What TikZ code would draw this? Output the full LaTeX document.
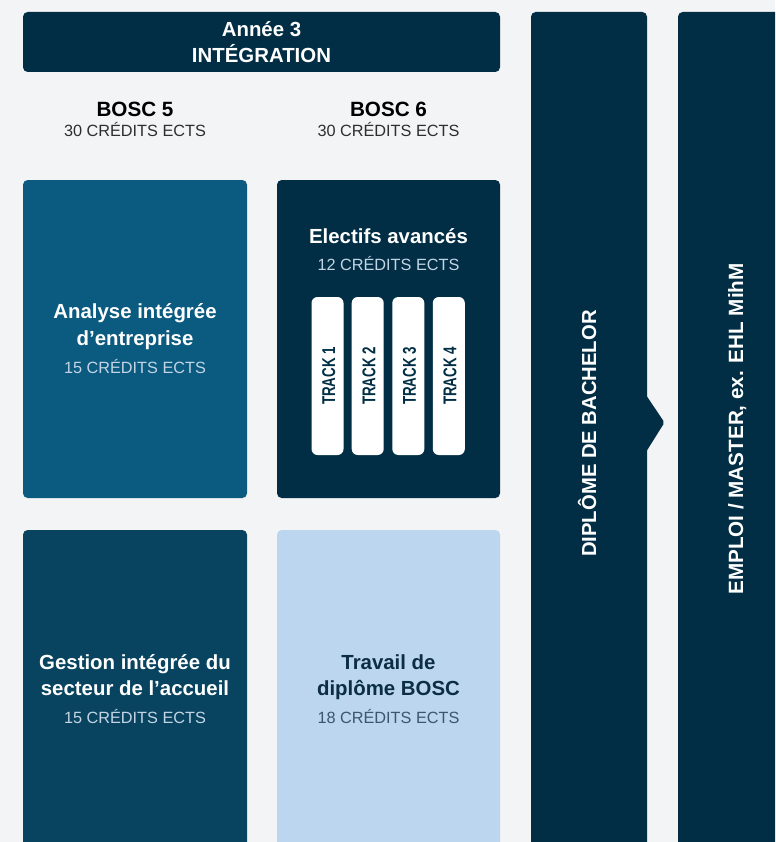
\documentclass[tikz,border=0pt]{standalone}
\usepackage{fontspec}
\setmainfont{Liberation Sans}
\usetikzlibrary{fit,calc}
\definecolor{bg}{HTML}{F3F4F6}
\definecolor{navy}{HTML}{012E45}
\definecolor{blueA}{HTML}{0B5A80}
\definecolor{blueG}{HTML}{08445F}
\definecolor{lightb}{HTML}{BCD6EF}
\definecolor{credlight}{HTML}{C3D5E5}
\definecolor{creddark}{HTML}{3C5670}
\definecolor{credgray}{HTML}{2E2E2E}
\definecolor{titlenavy}{HTML}{0B2D45}
\begin{document}
\begin{tikzpicture}[x=0.75pt,y=-0.75pt,
  panel/.style={inner sep=0pt, rounded corners=3.5pt, draw=none},
  trackbox/.style={inner sep=0pt, rounded corners=4.5pt, fill=white, draw=none},
  ttl/.style={anchor=base, inner sep=0pt, font=\fontsize{15.3}{18}\selectfont\bfseries},
  cred/.style={anchor=base, inner sep=0pt, font=\fontsize{12.2}{14}\selectfont},
  vtxt/.style={anchor=base, inner sep=0pt, rotate=90, text=white, font=\fontsize{15.2}{18}\selectfont\bfseries},
  trk/.style={anchor=base, inner sep=0pt, rotate=90, text=navy, font=\fontsize{13.9}{16}\selectfont\bfseries}
]
\path[use as bounding box, fill=bg] (0,0) rectangle (775,842);
\clip (0,0) rectangle (775,842);

% header
\node[panel, fill=navy, fit={(23,12) (500,72)}] (head) {};
\node[ttl, text=white] (h1) at (261.5,37) {Année 3};
\node[ttl, text=white] (h2) at (261.5,63) {INTÉGRATION};

% column headings
\node[ttl, text=black, font=\fontsize{15.5}{18}\selectfont\bfseries] (b5) at (135,116) {BOSC 5};
\node[cred, text=credgray] (b5c) at (135,137) {30 CRÉDITS ECTS};
\node[ttl, text=black, font=\fontsize{15.5}{18}\selectfont\bfseries] (b6) at (388.5,116) {BOSC 6};
\node[cred, text=credgray] (b6c) at (388.5,137) {30 CRÉDITS ECTS};

% Analyse
\node[panel, fill=blueA, fit={(23,180) (247,498)}] (ana) {};
\node[ttl, text=white] (ana1) at (135,318) {Analyse intégrée};
\node[ttl, text=white] (ana2) at (135,345) {d’entreprise};
\node[cred, text=credlight] (ana3) at (135,373) {15 CRÉDITS ECTS};

% Electifs
\node[panel, fill=navy, fit={(277,180) (500,498)}] (ele) {};
\node[ttl, text=white] (ele1) at (388.5,243) {Electifs avancés};
\node[cred, text=credlight] (ele2) at (388.5,270) {12 CRÉDITS ECTS};
\foreach \i/\xa/\xb in {1/311.5/343.5, 2/351.7/383.7, 3/392.3/424.3, 4/432.8/464.8}{
  \node[trackbox, fit={(\xa,297) (\xb,455)}] (t\i) {};
  \node[trk] (tt\i) at ($(t\i.center)+(7.6,0)$) {\scalebox{0.72}[1]{TRACK \i}};
}

% Gestion
\node[panel, fill=blueG, fit={(23,530) (247,870)}] (ges) {};
\node[ttl, text=white] (ges1) at (135,669) {Gestion intégrée du};
\node[ttl, text=white] (ges2) at (135,695) {secteur de l’accueil};
\node[cred, text=credlight] (ges3) at (135,723) {15 CRÉDITS ECTS};

% Travail
\node[panel, fill=lightb, fit={(277,530) (500,870)}] (trav) {};
\node[ttl, text=titlenavy] (tr1) at (388.5,669) {Travail de};
\node[ttl, text=titlenavy] (tr2) at (388.5,695) {diplôme BOSC};
\node[cred, text=creddark] (tr3) at (388.5,723) {18 CRÉDITS ECTS};

% Diplome column with chevron
\node[panel, fill=navy, fit={(531,12) (647,870)}] (dip) {};
\coordinate (arT) at (646,395);
\coordinate (arP) at (664.5,422.5);
\coordinate (arB) at (646,452);
\fill[navy, rounded corners=1.5pt] (arT) -- (arP) -- (arB) -- cycle;
\node[vtxt] (diptxt) at (596,433.5) {DIPLÔME DE BACHELOR};

% Emploi column
\node[panel, fill=navy, fit={(678,12) (800,870)}] (emp) {};
\node[vtxt, font=\fontsize{15.5}{18}\selectfont\bfseries] (emptxt) at (743,429) {EMPLOI / MASTER, ex. EHL MihM};
\end{tikzpicture}
\end{document}
